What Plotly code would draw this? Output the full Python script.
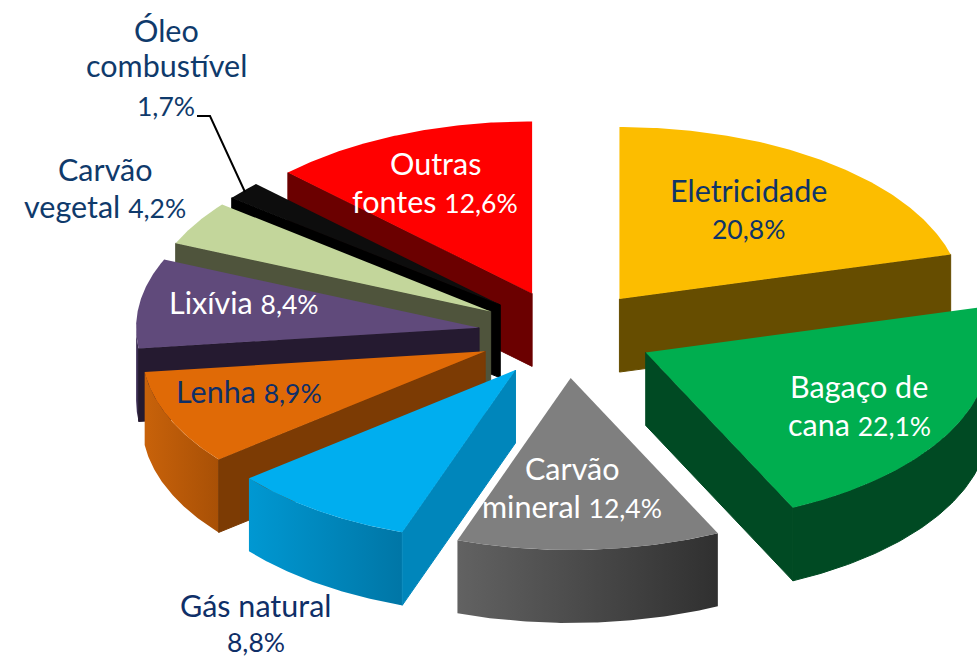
import numpy as np
import plotly.graph_objects as go

# ---- data -------------------------------------------------------------
categories = ["Eletricidade", "Bagaço de cana", "Carvão mineral", "Gás natural", "Lenha",
              "Lixívia", "Carvão vegetal", "Óleo combustível", "Outras fontes"]
values = [20.8, 22.1, 12.4, 8.8, 8.9, 8.4, 4.2, 1.7, 12.6]
label_lines = [["Eletricidade", "{}"], ["Bagaço de", "cana {}"], ["Carvão", "mineral {}"],
               ["Gás natural", "{}"], ["Lenha {}"], ["Lixívia {}"], ["Carvão", "vegetal {}"],
               ["Óleo", "combustível", "{}"], ["Outras", "fontes {}"]]

# ---- style / geometry --------------------------------------------------
CX, CY, RX, RY, DEPTH, EXPLODE = 566, 334, 343, 172, 73, 0.256
tops = ["#fcbd00", "#00ae4f", "#7f7f7f", "#00aeef", "#e06a06", "#604a7b", "#c3d69b", "#0d0d0d", "#ff0000"]
walls = ["#664d00", "#004a23", "#4a4a4a", "#0086bb", "#7c3b04", "#251a30", "#4f543c", "#000000", "#6b0000"]
rims = [["#664d00"] * 2, ["#004a23"] * 2, ["#626262", "#303030"], ["#0098d2", "#0076a6"],
        ["#c8620a", "#a85006"], ["#4a3a62", "#2c2140"], ["#4f543c"] * 2, ["#000000"] * 2, ["#6b0000"] * 2]
draw_order = [8, 0, 7, 6, 5, 4, 1, 3, 2]
label_x = [748, 859, 572, 256, 249, 244, 105, 166, 435]
label_y = [[190, 229], [386, 424], [468, 506], [605, 642], [391], [302], [169, 206], [30, 65, 106], [163, 201]]
label_colors = ["#0f3468", "#ffffff", "#ffffff", "#0f2f68", "#0f2f68", "#ffffff", "#0f3a6b", "#0f3a6b", "#ffffff"]
FONT = "Lato"
FONT_SIZE = 30.5
NUM_SIZE = 26.5

fig = go.Figure()


def pt(ang, ox, oy, r=1.0):
    return ox + r * RX * np.sin(ang), oy - r * RY * np.cos(ang)


def poly(xs, ys, color=None, gradient=None, edge=None):
    line = dict(width=1, color=edge) if edge else dict(width=0)
    kw = dict(x=list(xs), y=list(ys), mode="lines", fill="toself", line=line,
              hoverinfo="skip", showlegend=False)
    if gradient:
        kw["fillgradient"] = dict(type="horizontal", colorscale=[[0, gradient[0]], [1, gradient[1]]])
    else:
        kw["fillcolor"] = color
    fig.add_trace(go.Scatter(**kw))


total = sum(values)
edges = np.cumsum([0] + values) / total * 2 * np.pi

for i in draw_order:
    a0, a1 = edges[i], edges[i + 1]
    mid = (a0 + a1) / 2
    ox, oy = pt(mid, CX, CY, EXPLODE)
    # visible outer rim (front half of the ellipse)
    lo, hi = max(a0, np.pi / 2), min(a1, 3 * np.pi / 2)
    if hi > lo:
        t = np.linspace(lo, hi, 80)
        rx_, ry_ = pt(t, ox, oy)
        rim_x = np.r_[rx_, rx_[::-1], rx_[0]]
        rim_y = np.r_[ry_, ry_[::-1] + DEPTH, ry_[0]]
        if rims[i][0] == rims[i][1]:
            poly(rim_x, rim_y, rims[i][0], edge=rims[i][0])
        else:
            poly(rim_x, rim_y, gradient=rims[i])
    # visible cut wall
    wall_ang = None
    if np.pi < a0 < 2 * np.pi:
        wall_ang = a0
    if 0 < a1 < np.pi:
        wall_ang = a1
    if wall_ang is not None:
        ex, ey = pt(wall_ang, ox, oy)
        poly([ox, ex, ex, ox, ox], [oy, ey, ey + DEPTH, oy + DEPTH, oy], walls[i], edge=walls[i])
    # top face
    t = np.linspace(a0, a1, 120)
    tx, ty = pt(t, ox, oy)
    poly(np.r_[ox, tx, ox], np.r_[oy, ty, oy], tops[i])

# leader line of the small slice
fig.add_trace(go.Scatter(x=[197, 210, 245], y=[116, 116, 192], mode="lines",
                         line=dict(color="#000000", width=2), hoverinfo="skip", showlegend=False))

for i, lines in enumerate(label_lines):
    pct = f"{values[i]:.1f}".replace(".", ",") + "%"
    styled = f"<span style='font-size:{NUM_SIZE}px'>{pct}</span>"
    for line, y in zip(lines, label_y[i]):
        fig.add_annotation(x=label_x[i], y=y, text=line.format(styled), showarrow=False,
                           xanchor="center", yanchor="middle",
                           font=dict(family=FONT, size=FONT_SIZE, color=label_colors[i]))

fig.update_layout(width=977, height=659, margin=dict(l=0, r=0, t=0, b=0), autosize=False,
                  paper_bgcolor="#ffffff", plot_bgcolor="#ffffff", showlegend=False,
                  xaxis=dict(range=[0, 977], visible=False, fixedrange=True),
                  yaxis=dict(range=[659, 0], visible=False, fixedrange=True))
fig.write_html("out.html", config={"displayModeBar": False},
               post_script="document.body.style.margin='0';")
